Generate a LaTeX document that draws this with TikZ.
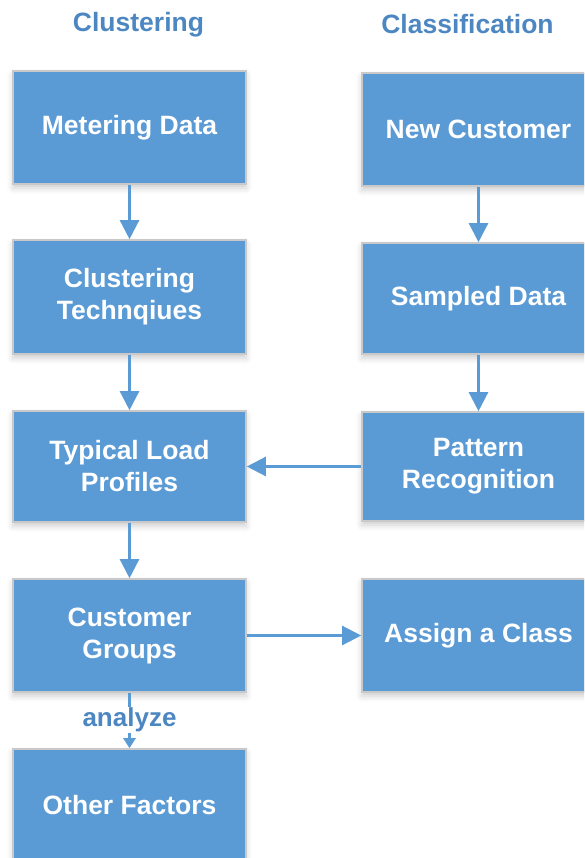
\documentclass[tikz,border=0pt]{standalone}
\usepackage{fontspec}
\setmainfont{Liberation Sans}
\usetikzlibrary{arrows.meta,shadows.blur}

\definecolor{boxblue}{HTML}{5B9BD5}
\definecolor{boxedge}{HTML}{C9C9C9}
\definecolor{headblue}{HTML}{4C87C2}

\tikzset{
  flowbox/.style={
    rectangle, fill=boxblue, draw=boxedge, line width=1.6pt,
    minimum width=233pt, inner sep=0pt, align=center,
    text=white, font=\fontsize{26.5}{32}\selectfont\bfseries,
    blur shadow={shadow xshift=0pt, shadow yshift=-4pt,
                 shadow blur radius=6pt, shadow opacity=20}},
  heading/.style={text=headblue, font=\fontsize{26.5}{32}\selectfont\bfseries},
  flow/.style={draw=boxblue, line width=2.4pt,
               -{Triangle[length=19pt,width=19pt]}},
  smallflow/.style={draw=boxblue, line width=2.4pt,
               -{Triangle[length=10pt,width=12pt]}},
}

\begin{document}
\begin{tikzpicture}[x=1pt,y=-1pt]
  \useasboundingbox (0,0) rectangle (584,858);
  \clip (0,0) rectangle (584,858);

  % column headings
  \node[heading] (hclu) at (138.5,25) {Clustering};
  \node[heading] (hcla) at (467.5,24.5) {Classification};

  % clustering column
  \node[flowbox, minimum height=113pt] (md)  at (129.5,127.5) {Metering Data};
  \node[flowbox, minimum height=114pt] (ct)  at (129.5,297)   {Clustering\\Technqiues};
  \node[flowbox, minimum height=111pt] (tlp) at (129.5,466.5) {Typical Load\\Profiles};
  \node[flowbox, minimum height=113pt] (cg)  at (129.5,635.5) {Customer\\Groups};
  \node[flowbox, minimum height=113pt] (of)  at (129.5,805.5) {Other Factors};

  % classification column
  \node[flowbox, minimum height=113pt] (nc) at (478.5,129.5) {New Customer};
  \node[flowbox, minimum height=111pt] (sd) at (478.5,298.5) {Sampled Data};
  \node[flowbox, minimum height=109pt] (pr) at (478.5,466.5) {Pattern\\Recognition};
  \node[flowbox, minimum height=113pt] (ac) at (478.5,635.5) {Assign a Class};

  % connectors
  \draw[flow] (md) -- (ct);
  \draw[flow] (ct) -- (tlp);
  \draw[flow] (tlp) -- (cg);
  \draw[flow] (nc) -- (sd);
  \draw[flow] (sd) -- (pr);
  \draw[flow] (pr) -- (tlp);
  \draw[flow] (cg) -- (ac);

  % labelled link to the other factors
  \node[text=headblue, font=\fontsize{26}{30}\selectfont\bfseries,
        fill=white, inner sep=0.5pt] (an) at (129.5,720) {analyze};
  \draw[boxblue, line width=2.4pt] (cg.south) -- (an.north);
  \draw[smallflow] (an.south) -- (of.north);
\end{tikzpicture}
\end{document}
